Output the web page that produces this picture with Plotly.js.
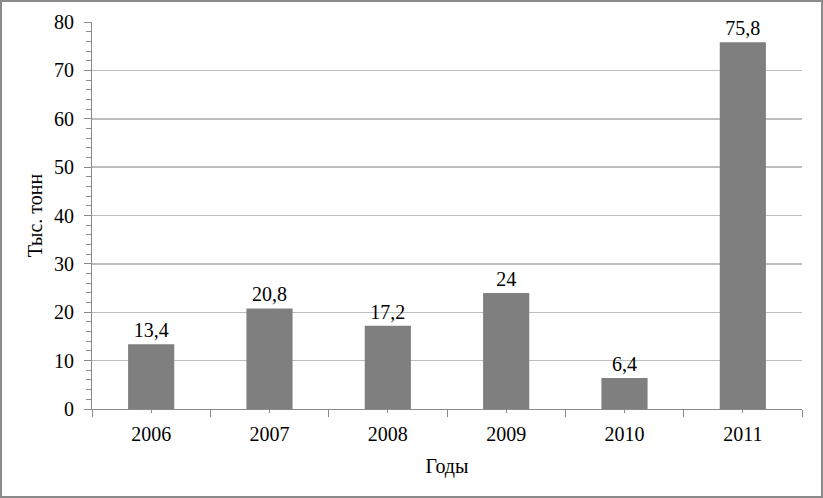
<!DOCTYPE html>
<html>
<head>
<meta charset="utf-8">
<script src="https://cdn.plot.ly/plotly-3.0.1.min.js"></script>
<style>
body{margin:0;padding:0;background:#fff;}
#wrap{position:absolute;left:0;top:0;width:823px;height:498px;box-sizing:border-box;border:2px solid #8a8a8a;}
#chart{width:819px;height:494px;}
</style>
</head>
<body>
<div id="wrap"><div id="chart"></div></div>
<script>
const years = ['2006','2007','2008','2009','2010','2011'];
const values = [13.4, 20.8, 17.2, 24, 6.4, 75.8];
const labels = ['13,4','20,8','17,2','24','6,4','75,8'];
const yTicks = [0,10,20,30,40,50,60,70,80];

const fam = 'Liberation Serif, Times New Roman, serif';
const f = (s) => ({family:fam, size:s, color:'#000'});

const data = [{
  type:'bar', x:years, y:values, text:labels, textposition:'outside',
  textfont:f(20), marker:{color:'#7f7f7f'}, cliponaxis:false, hoverinfo:'skip'
},{
  type:'bar', x:years, y:values, xaxis:'x2', marker:{color:'rgba(0,0,0,0)'}, hoverinfo:'skip', showlegend:false
}];

const layout = {
  width:819, height:494,
  margin:{l:90, r:19, t:20, b:87},
  paper_bgcolor:'#fff', plot_bgcolor:'#fff',
  showlegend:false, bargap:0.61, separators:', ',
  font:f(20),
  xaxis:{
    type:'category', tickson:'boundaries', ticks:'outside', ticklen:7, tickcolor:'#8a8a8a', tickwidth:1,
    showline:true, linecolor:'#8a8a8a', linewidth:1, showgrid:false,
    tickfont:f(20), ticklabelstandoff:7,
    title:{text:'Годы', font:f(20), standoff:14}
  },
  xaxis2:{
    type:'category', overlaying:'x', matches:'x', side:'bottom', anchor:'y',
    ticks:'outside', ticklen:3, tickcolor:'#8a8a8a', showticklabels:false, showgrid:false, showline:false
  },
  yaxis:{
    range:[0,80], tickvals:yTicks, ticks:'outside', ticklen:7, tickcolor:'#8a8a8a',
    showline:true, linecolor:'#8a8a8a', linewidth:1,
    gridcolor:'#bdbdbd', gridwidth:1.5, zeroline:false,
    minor:{dtick:2, ticks:'outside', ticklen:5, tickcolor:'#8a8a8a', showgrid:false},
    tickfont:f(20), ticklabelstandoff:6,
    title:{text:'Тыс. тонн', font:f(20), standoff:6}
  }
};

Plotly.newPlot('chart', data, layout, {displayModeBar:false, staticPlot:true});
</script>
</body>
</html>
